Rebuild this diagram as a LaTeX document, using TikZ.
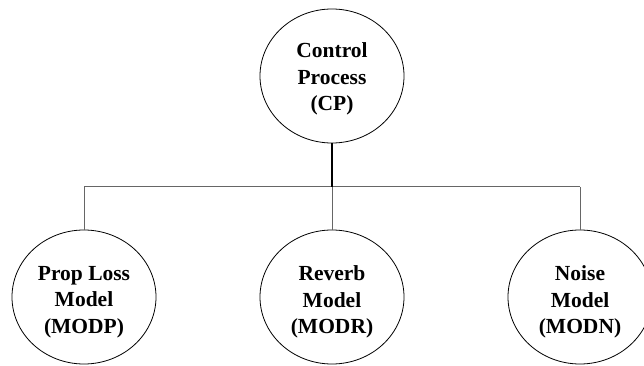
\documentclass[tikz,border=0pt]{standalone}
\usepackage{fontspec}
\setmainfont{Liberation Serif}
\usetikzlibrary{shapes.geometric}
\begin{document}
\begin{tikzpicture}[x=1pt,y=1pt,
  proc/.style={draw=black, line width=0.8pt, ellipse, minimum width=144pt, minimum height=134pt,
    inner sep=0pt},
  txt/.style={align=center, inner sep=0pt, font=\fontsize{21.5}{26.5}\selectfont\bfseries},
  link/.style={draw=black!60, line width=1pt},
  trunk/.style={draw=black, line width=1.1pt}]
\useasboundingbox (0,0) rectangle (644,366);
\node[proc, label={[txt, yshift=-3pt]center:Control\\Process\\(CP)}] (cp) at (332,290) {};
\node[proc, label={[txt, yshift=-5pt]center:Prop Loss\\Model\\(MODP)}] (mp) at (84,69) {};
\node[proc, label={[txt, yshift=-5pt]center:Reverb\\Model\\(MODR)}] (mr) at (332,69) {};
\node[proc, label={[txt, yshift=-5pt]center:Noise\\Model\\(MODN)}] (mn) at (580,69) {};
\coordinate (j) at (332,179);
\coordinate (jl) at (84,179);
\coordinate (jr) at (580,179);
\draw[link] (jl) -- (jr);
\draw[link] (jl) -- (mp.north);
\draw[link] (j) -- (mr.north);
\draw[link] (jr) -- (mn.north);
\draw[trunk] (cp.south) -- (j);
\end{tikzpicture}
\end{document}
